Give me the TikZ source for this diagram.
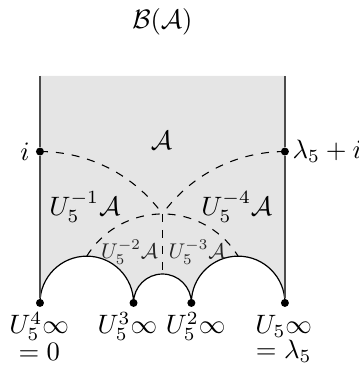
\documentclass[tikz,border=0pt]{standalone}
\usepackage{amsmath}
\begin{document}
\begin{tikzpicture}[x=2cm,y=2cm,
  pt/.style={circle,fill=black,inner sep=0pt,minimum size=3pt},
  solidarc/.style={black,line width=0.45pt},
  side/.style={black!70,line width=0.5pt},
  dsh/.style={black,dashed,line width=0.4pt},
  biglab/.style={inner sep=0pt},
  smalllab/.style={inner sep=0pt,text=black!85},
  botlab/.style={inner sep=0pt}]
\useasboundingbox (-0.264,-0.41) rectangle (2.107,2.001);
% key points
\coordinate (top0) at (0,1.5);
\coordinate (topL) at (1.618034,1.5);
\coordinate (m) at (0.809017,0.587785);
\coordinate (mb) at (0.809017,0.190983);
\coordinate (c1) at (0.309017,0.309017);
% fill
\fill[gray!20] (top0) -- (0,0) arc[start angle=180,end angle=0,radius=0.309017]
  arc[start angle=180,end angle=0,radius=0.190983]
  arc[start angle=180,end angle=0,radius=0.309017] -- (topL) -- cycle;
% solid arcs
\draw[solidarc] (0,0) arc[start angle=180,end angle=0,radius=0.309017]
  arc[start angle=180,end angle=0,radius=0.190983]
  arc[start angle=180,end angle=0,radius=0.309017];
% points
\node[pt] (p0) at (0,0) {};
\node[pt] (p3) at (0.618034,0) {};
\node[pt] (p2) at (1,0) {};
\node[pt] (p1) at (1.618034,0) {};
\node[pt] (pi) at (0,1) {};
\node[pt] (pli) at (1.618034,1) {};
% sides
\draw[side] (top0) -- (pi) -- (p0);
\draw[side] (topL) -- (pli) -- (p1);
% dashed geodesics
\draw[dsh] (pi.center) arc[start angle=90,end angle=36,radius=1];
\draw[dsh] (pli.center) arc[start angle=90,end angle=144,radius=1];
\draw[dsh] (c1) arc[start angle=148.28,end angle=31.72,radius=0.587785];
\draw[dsh] (m) -- (mb);
% labels
\node[biglab] (title) at (0.809,1.856) {$\mathcal{B}(\mathcal{A})$};
\node[biglab] (A) at (0.802,1.075) {$\mathcal{A}$};
\node[biglab] (A1) at (0.297,0.634) {$U_5^{-1}\mathcal{A}$};
\node[biglab] (A4) at (1.30,0.634) {$U_5^{-4}\mathcal{A}$};
\node[smalllab] (A2) at (0.592,0.335) {\scalebox{0.8}{$U_5^{-2}\mathcal{A}$}};
\node[smalllab] (A3) at (1.037,0.335) {\scalebox{0.8}{$U_5^{-3}\mathcal{A}$}};
\node[left,inner sep=2pt] (li) at (pi.west) {$i$};
\node[right,inner sep=1pt] (lli) at (pli.east) {$\lambda_5+i$};
\node[botlab] (b0) at (-0.005,-0.155) {$U_5^4\infty$};
\node[botlab] (b0e) at (-0.005,-0.322) {$=0$};
\node[botlab] (b3) at (0.578,-0.155) {$U_5^3\infty$};
\node[botlab] (b2) at (1.028,-0.155) {$U_5^2\infty$};
\node[botlab] (b1) at (1.61,-0.155) {$U_5\infty$};
\node[botlab] (b1e) at (1.61,-0.322) {$=\lambda_5$};
\end{tikzpicture}
\end{document}
